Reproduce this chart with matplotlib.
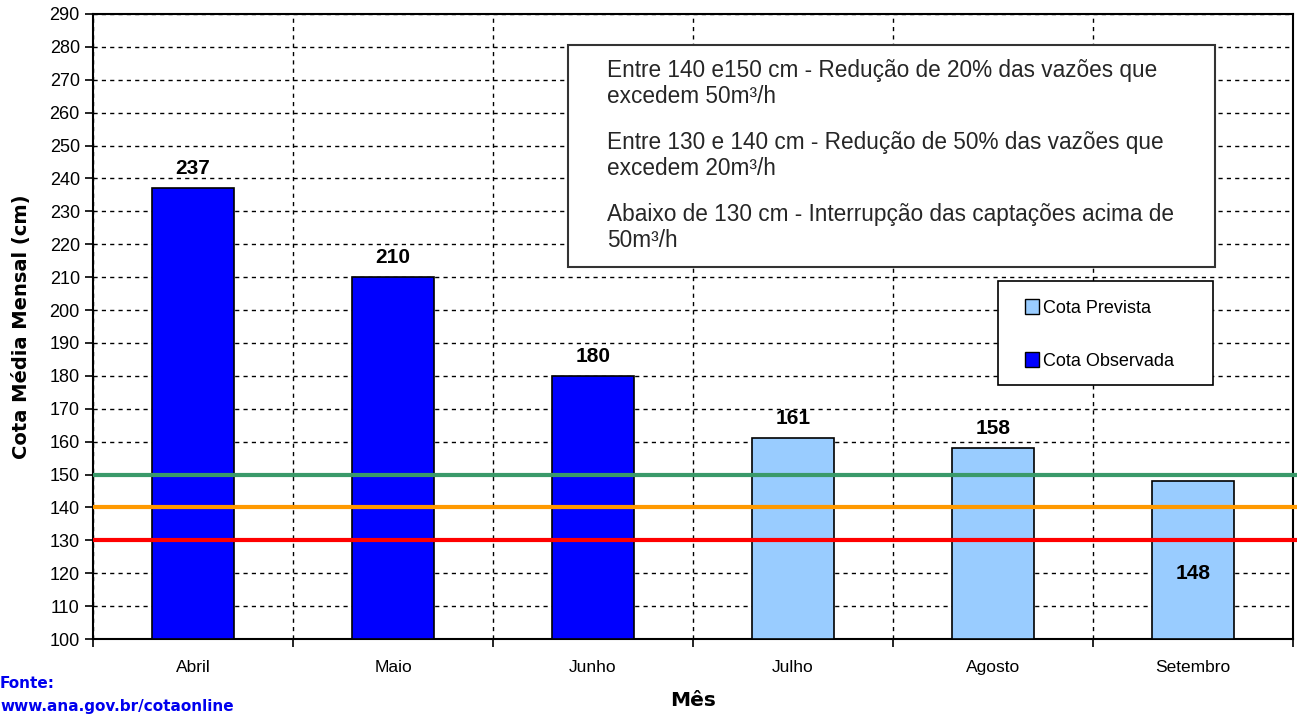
import matplotlib.pyplot as plt
from matplotlib.patches import Patch
import numpy as np

plt.rcParams['font.family'] = ['Liberation Sans', 'DejaVu Sans']

meses = ['Abril', 'Maio', 'Junho', 'Julho', 'Agosto', 'Setembro']
cota = [237, 210, 180, 161, 158, 148]
observada = [True, True, True, False, False, False]
limites = [150, 140, 130]
cores_limites = ['#3a9a6a', '#ff9900', '#ff0000']
regras = ['Entre 140 e150 cm - Redução de 20% das vazões que\nexcedem 50m³/h',
          'Entre 130 e 140 cm - Redução de 50% das vazões que\nexcedem 20m³/h',
          'Abaixo de 130 cm - Interrupção das captações acima de\n50m³/h']

azul_obs = '#0000ff'
azul_prev = '#99ccff'

fig = plt.figure(figsize=(12.99, 7.14), dpi=100)
ax = fig.add_axes([93 / 1299, 1 - 639 / 714, 1200 / 1299, 625 / 714])

x = np.arange(len(meses))
cores = [azul_obs if o else azul_prev for o in observada]
ax.bar(x, [c - 100 for c in cota], bottom=100, width=0.41, color=cores,
       edgecolor='black', linewidth=1.2, zorder=3)

for xi, c in zip(x, cota):
    if c < 150:
        ax.text(xi, 120, str(c), ha='center', va='center', fontsize=15,
                fontweight='bold', zorder=5)
    else:
        ax.text(xi, c + 3, str(c), ha='center', va='bottom', fontsize=15,
                fontweight='bold', zorder=5)

for lim, cor in zip(limites, cores_limites):
    ax.plot([-0.5, 5.52], [lim, lim], color=cor, linewidth=3, zorder=4,
            clip_on=False, solid_capstyle='butt')

ax.set_xlim(-0.5, 5.5)
ax.set_ylim(100, 290)
ax.set_yticks(range(100, 291, 10))
ax.set_xticks(x)
ax.set_xticklabels(meses, fontsize=12.5)
ax.set_xticks(np.arange(-0.5, 5.6, 1), minor=True)
ax.tick_params(axis='x', which='major', length=0, pad=15)
ax.tick_params(axis='x', which='minor', length=6, direction='out', width=1.2)
ax.tick_params(axis='y', length=6, width=1.2, labelsize=13)
ax.grid(axis='y', which='major', linestyle=(0, (3, 3)), color='black', linewidth=1, zorder=1)
ax.grid(axis='x', which='minor', linestyle=(0, (3, 3)), color='black', linewidth=1, zorder=1)
for s in ax.spines.values():
    s.set_linewidth(1.5)

ax.set_ylabel('Cota Média Mensal (cm)', fontsize=14, fontweight='bold', family='DejaVu Sans')
ax.yaxis.set_label_coords(-0.052, 0.5)
ax.set_xlabel('Mês', fontsize=14.5, fontweight='bold', family='DejaVu Sans', labelpad=12)

ax.add_patch(plt.Rectangle((0.396, 0.595), 0.539, 0.355, transform=ax.transAxes,
                           facecolor='white', edgecolor='#333333', linewidth=1.5, zorder=5))
for i, r in enumerate(regras):
    ycen = (639 - (83.5 + 72 * i)) / 625
    ax.text(0.428, ycen, r, transform=ax.transAxes, fontsize=16.3, va='center', ha='left',
            color='#262626', linespacing=1.2, zorder=6)

ax.add_patch(plt.Rectangle((0.754, 0.406), 0.179, 0.167, transform=ax.transAxes,
                           facecolor='white', edgecolor='black', linewidth=1.2, zorder=5))
handles = [Patch(facecolor=azul_prev, edgecolor='black', label='Cota Prevista'),
           Patch(facecolor=azul_obs, edgecolor='black', label='Cota Observada')]
leg = ax.legend(handles=handles, loc='center left', bbox_to_anchor=(0.777, (639 - 334.5) / 625),
                fontsize=13, frameon=False, handlelength=0.75, handleheight=0.9,
                handletextpad=0.25, labelspacing=1.95, borderpad=0, borderaxespad=0)
leg.set_zorder(7)

fig.text(0.0, 1 - 684 / 714, 'Fonte:', color='#0000ee', fontsize=11, fontweight='bold',
         family='DejaVu Sans', va='center', ha='left')
fig.text(0.0, 1 - 706 / 714, 'www.ana.gov.br/cotaonline', color='#0000ee', fontsize=11,
         fontweight='bold', family='DejaVu Sans', va='center', ha='left')

fig.savefig('out.png', dpi=100)
